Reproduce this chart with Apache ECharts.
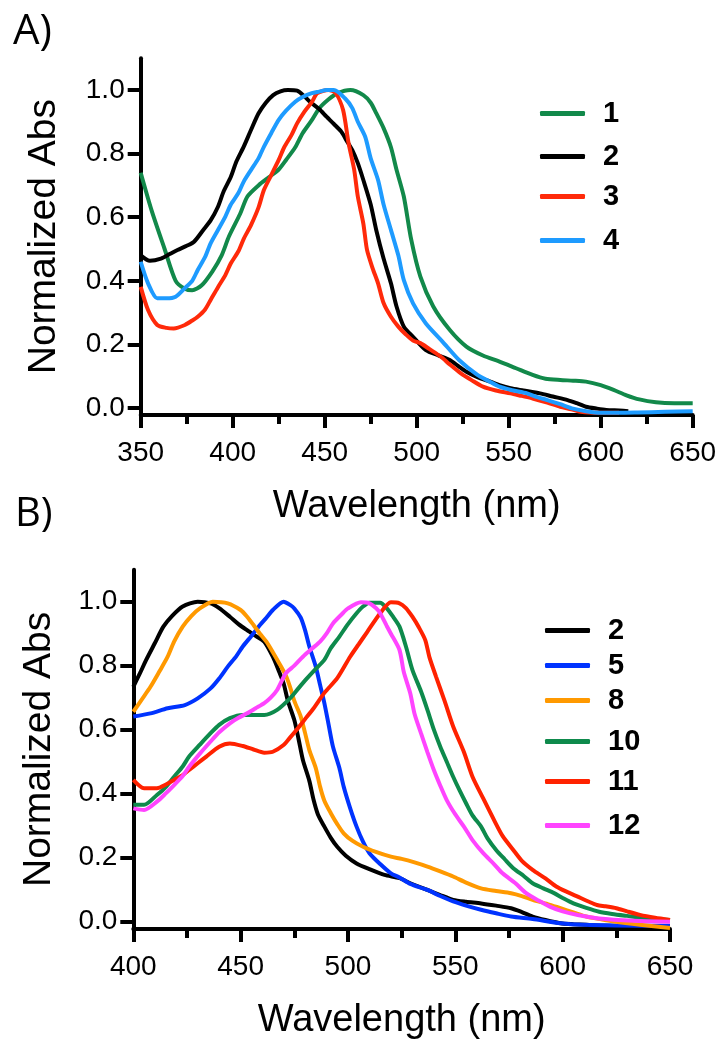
<!DOCTYPE html>
<html><head><meta charset="utf-8">
<script src="https://cdn.jsdelivr.net/npm/echarts@6/dist/echarts.min.js"></script>
<style>html,body{margin:0;padding:0;background:#fff}#c{width:727px;height:1050px}</style>
</head><body><div id="c"></div>
<script>
// ---------- data ----------
const yTicks = [0, 0.2, 0.4, 0.6, 0.8, 1.0];
const namesA = ['1', '2', '3', '4'];
const namesB = ['2', '5', '8', '10', '11', '12'];

const a1 = [[350,0.74],[356,0.62],[363,0.50],[369,0.40],[374,0.375],[378,0.37],[383,0.385],[389,0.43],[394,0.48],[398,0.54],[404,0.61],[408,0.665],[414,0.70],[420,0.727],[425,0.75],[429,0.78],[434,0.82],[438,0.864],[443,0.905],[447,0.942],[452,0.97],[457,0.99],[464,1.0],[471,0.984],[475,0.96],[478,0.927],[482,0.88],[486,0.82],[489,0.75],[493,0.665],[497,0.53],[502,0.413],[509,0.319],[518,0.245],[527,0.193],[536,0.165],[545,0.146],[554,0.125],[563,0.104],[570,0.092],[578,0.088],[585,0.086],[592,0.083],[600,0.072],[607,0.057],[614,0.04],[621,0.027],[630,0.018],[640,0.015],[650,0.015]];
const a2 = [[350,0.48],[355,0.463],[361,0.47],[366,0.485],[370,0.497],[375,0.51],[379,0.523],[384,0.56],[388,0.59],[392,0.633],[395,0.68],[399,0.727],[402,0.775],[406,0.822],[410,0.875],[414,0.926],[418,0.96],[422,0.984],[426,0.996],[430,1.0],[435,0.998],[439,0.98],[442,0.963],[447,0.94],[451,0.916],[455,0.893],[459,0.869],[462,0.84],[465,0.811],[468,0.77],[471,0.717],[475,0.64],[478,0.56],[482,0.47],[486,0.392],[489,0.32],[493,0.256],[498,0.224],[505,0.182],[512,0.165],[518,0.151],[523,0.13],[527,0.114],[533,0.097],[540,0.083],[545,0.072],[551,0.062],[558,0.055],[567,0.046],[574,0.036],[582,0.025],[587,0.015],[592,0.004],[598,-0.002],[603,-0.006],[610,-0.008],[615,-0.01]];
const a3 = [[350,0.381],[354,0.308],[359,0.261],[364,0.252],[368,0.25],[374,0.261],[378,0.275],[381,0.287],[385,0.31],[388,0.34],[392,0.38],[396,0.418],[399,0.455],[403,0.492],[406,0.532],[410,0.576],[414,0.63],[417,0.686],[421,0.733],[425,0.78],[428,0.82],[432,0.859],[435,0.895],[439,0.932],[443,0.962],[446,0.99],[452,1.0],[456,0.99],[460,0.937],[463,0.832],[466,0.75],[468,0.665],[471,0.58],[473,0.497],[476,0.44],[479,0.392],[482,0.33],[486,0.287],[490,0.256],[494,0.232],[498,0.212],[502,0.204],[507,0.185],[513,0.162],[518,0.137],[524,0.109],[530,0.087],[536,0.067],[543,0.055],[551,0.046],[557,0.038],[563,0.03],[571,0.017],[578,0.004],[584,-0.004],[589,-0.012],[600,-0.015],[610,-0.015]];
const a4 = [[350,0.46],[354,0.392],[359,0.345],[364,0.345],[369,0.35],[374,0.377],[378,0.40],[381,0.434],[385,0.475],[388,0.518],[392,0.56],[396,0.602],[399,0.64],[403,0.675],[406,0.712],[410,0.749],[414,0.785],[417,0.822],[421,0.865],[425,0.906],[429,0.935],[434,0.963],[438,0.978],[443,0.99],[447,0.995],[451,1.0],[455,1.0],[461,0.974],[465,0.943],[468,0.90],[472,0.853],[475,0.785],[479,0.717],[482,0.64],[486,0.56],[490,0.48],[493,0.402],[498,0.329],[505,0.266],[514,0.209],[523,0.151],[533,0.104],[539,0.085],[545,0.067],[552,0.056],[560,0.046],[565,0.035],[571,0.025],[578,0.012],[585,-0.002],[592,-0.01],[600,-0.015],[610,-0.015],[620,-0.014],[635,-0.012],[650,-0.01]];

const b2 = [[400,0.734],[403,0.775],[406,0.818],[410,0.87],[414,0.922],[418,0.955],[423,0.985],[430,1.0],[436,0.995],[440,0.98],[445,0.953],[449,0.93],[453,0.911],[457,0.893],[461,0.875],[465,0.828],[468,0.78],[470,0.745],[472,0.69],[475,0.63],[477,0.57],[479,0.505],[482,0.44],[484,0.38],[486,0.335],[489,0.297],[492,0.262],[495,0.234],[499,0.206],[504,0.182],[510,0.164],[517,0.146],[524,0.136],[529,0.12],[537,0.099],[543,0.083],[549,0.068],[555,0.062],[562,0.057],[569,0.05],[576,0.042],[581,0.03],[586,0.016],[592,0.005],[599,-0.005],[605,-0.008],[611,-0.01],[620,-0.013],[635,-0.015],[650,-0.015]];
const b5 = [[400,0.641],[408,0.651],[416,0.667],[424,0.677],[430,0.698],[436,0.729],[440,0.76],[444,0.797],[448,0.83],[451,0.86],[455,0.893],[459,0.927],[462,0.95],[465,0.974],[470,1.0],[473,0.99],[475,0.979],[478,0.95],[480,0.911],[482,0.86],[485,0.797],[487,0.74],[489,0.683],[491,0.615],[493,0.547],[496,0.48],[498,0.422],[501,0.355],[504,0.297],[507,0.25],[510,0.214],[515,0.18],[520,0.151],[524,0.138],[529,0.118],[537,0.099],[543,0.08],[549,0.063],[555,0.05],[562,0.037],[569,0.026],[576,0.016],[586,0.008],[599,-0.005],[610,-0.01],[625,-0.012],[650,-0.013]];
const b8 = [[400,0.656],[404,0.695],[408,0.734],[412,0.78],[416,0.828],[419,0.875],[423,0.922],[427,0.955],[431,0.979],[437,1.0],[444,0.995],[450,0.974],[453,0.953],[456,0.927],[459,0.9],[462,0.875],[465,0.842],[468,0.807],[471,0.77],[473,0.734],[475,0.69],[478,0.641],[480,0.59],[482,0.536],[485,0.48],[487,0.422],[489,0.378],[492,0.339],[495,0.305],[498,0.276],[502,0.253],[507,0.234],[513,0.218],[520,0.203],[525,0.196],[531,0.185],[537,0.172],[543,0.157],[549,0.141],[555,0.122],[562,0.104],[569,0.096],[576,0.089],[581,0.08],[586,0.068],[593,0.055],[599,0.042],[605,0.029],[611,0.016],[618,0.007],[624,0.0],[636,-0.01],[650,-0.02]];
const b10 = [[400,0.365],[405,0.365],[411,0.396],[415,0.42],[419,0.453],[423,0.485],[426,0.516],[431,0.553],[436,0.589],[440,0.615],[445,0.636],[451,0.646],[456,0.646],[461,0.646],[467,0.662],[473,0.698],[477,0.73],[481,0.761],[485,0.79],[489,0.818],[492,0.855],[496,0.891],[500,0.93],[504,0.964],[507,0.985],[510,0.997],[515,0.997],[518,0.98],[521,0.953],[524,0.922],[527,0.86],[530,0.787],[534,0.72],[537,0.662],[540,0.6],[543,0.547],[546,0.5],[549,0.453],[552,0.41],[555,0.37],[558,0.332],[562,0.297],[565,0.26],[569,0.224],[573,0.195],[577,0.167],[582,0.142],[586,0.12],[591,0.104],[596,0.089],[600,0.074],[605,0.057],[611,0.043],[617,0.031],[623,0.024],[630,0.018],[640,0.01],[650,0.005]];
const b11 = [[400,0.443],[405,0.417],[411,0.417],[415,0.428],[419,0.443],[423,0.458],[426,0.474],[430,0.495],[434,0.516],[440,0.547],[445,0.557],[451,0.549],[456,0.538],[461,0.528],[465,0.531],[470,0.552],[473,0.575],[476,0.599],[480,0.633],[484,0.667],[489,0.715],[495,0.761],[501,0.828],[505,0.867],[509,0.906],[515,0.964],[520,0.998],[524,0.995],[527,0.98],[530,0.953],[533,0.92],[536,0.88],[538,0.825],[541,0.766],[545,0.69],[549,0.61],[554,0.53],[558,0.453],[563,0.385],[568,0.318],[572,0.268],[577,0.224],[581,0.19],[586,0.162],[592,0.135],[597,0.11],[602,0.093],[607,0.078],[612,0.063],[616,0.052],[620,0.048],[625,0.042],[630,0.032],[636,0.021],[643,0.012],[650,0.005]];
const b12 = [[400,0.354],[405,0.349],[411,0.375],[415,0.4],[419,0.427],[423,0.455],[426,0.484],[431,0.525],[436,0.563],[440,0.592],[445,0.62],[449,0.637],[453,0.651],[457,0.667],[461,0.683],[464,0.7],[467,0.724],[471,0.776],[475,0.8],[479,0.828],[483,0.852],[487,0.875],[490,0.9],[493,0.932],[497,0.96],[500,0.979],[506,0.998],[510,0.995],[513,0.98],[515,0.964],[518,0.925],[520,0.9],[524,0.849],[526,0.78],[529,0.714],[531,0.65],[534,0.589],[537,0.53],[540,0.474],[543,0.425],[546,0.38],[550,0.335],[554,0.297],[558,0.255],[563,0.214],[568,0.18],[572,0.151],[578,0.12],[583,0.089],[589,0.065],[594,0.047],[600,0.032],[607,0.021],[617,0.01],[633,0.003],[650,0.0]];

const dataA = [a1, a2, a3, a4];
const dataB = [b2, b5, b8, b10, b11, b12];
const colorsA = ['#12894a', '#000000', '#ff2a0a', '#1e9bff'];
const colorsB = ['#000000', '#0033ff', '#ff9900', '#0e8a4c', '#ff2200', '#ff44ff'];

// ---------- layout ----------
const FONT = 'Liberation Sans, Arial, sans-serif';
const legATop = [115, 158, 198, 242];
const legBTop = [632, 667, 702, 743, 783, 827];

function xAx(gi, min, max) {
  return {
    type: 'value', gridIndex: gi, min: min, max: max, interval: 50,
    axisLine: { show: true, onZero: false, lineStyle: { color: '#000', width: 4 } },
    axisTick: { show: true, length: 13, lineStyle: { color: '#000', width: 4 } },
    minorTick: { show: true, splitNumber: 2, length: 9, lineStyle: { color: '#000', width: 4 } },
    splitLine: { show: false }, minorSplitLine: { show: false },
    axisLabel: { color: '#000', fontSize: 28, fontFamily: FONT, margin: 24 },
    name: 'Wavelength (nm)', nameLocation: 'middle', nameGap: 73,
    nameTextStyle: { color: '#000', fontSize: 38, fontFamily: FONT }
  };
}
function yAx(gi, min, nameGap) {
  return {
    type: 'value', gridIndex: gi, min: min, max: 1.1,
    axisLine: { show: true, onZero: false, lineStyle: { color: '#000', width: 4 } },
    axisTick: { show: true, length: 13, customValues: yTicks, lineStyle: { color: '#000', width: 4 } },
    splitLine: { show: false },
    axisLabel: { color: '#000', fontSize: 28, fontFamily: FONT, margin: 16, customValues: yTicks,
      formatter: v => Number(v).toFixed(1) },
    name: 'Normalized Abs', nameLocation: 'middle', nameGap: nameGap,
    nameTextStyle: { color: '#000', fontSize: 39, fontFamily: FONT }
  };
}

const series = [];
dataA.forEach((d, i) => series.push({
  name: 'A' + namesA[i], type: 'line', xAxisIndex: 0, yAxisIndex: 0, data: d,
  showSymbol: false, smooth: 0.25, color: colorsA[i],
  lineStyle: { width: 4, color: colorsA[i] }
}));
dataB.forEach((d, i) => series.push({
  name: 'B' + namesB[i], type: 'line', xAxisIndex: 1, yAxisIndex: 1, data: d,
  showSymbol: false, smooth: 0.25, color: colorsB[i],
  lineStyle: { width: 4, color: colorsB[i] }
}));

function leg(name, left, centerY) {
  return {
    data: [name], left: left, top: centerY - 16, padding: 0, orient: 'vertical',
    icon: 'roundRect', itemWidth: 45, itemHeight: 5, selectedMode: false,
    formatter: n => n.slice(1),
    textStyle: { color: '#000', fontSize: 29, fontWeight: 'bold', fontFamily: FONT, padding: [0, 0, 0, 13] }
  };
}
const legends = [];
namesA.forEach((n, i) => legends.push(leg('A' + n, 540, legATop[i])));
namesB.forEach((n, i) => legends.push(leg('B' + n, 545, legBTop[i])));

const chart = echarts.init(document.getElementById('c'), null, { renderer: 'canvas' });
chart.setOption({
  backgroundColor: '#fff',
  animation: false,
  title: [
    { text: 'A)', left: 8, top: 6, textStyle: { color: '#000', fontSize: 42, fontWeight: 'normal', fontFamily: 'Open Sans, sans-serif' } },
    { text: 'B)', left: 10, top: 490, textStyle: { color: '#000', fontSize: 40, fontWeight: 'normal', fontFamily: 'Open Sans, sans-serif' } }
  ],
  grid: [
    { left: 140.7, top: 58.2, width: 552, height: 356.8, outerBoundsMode: 'none', containLabel: false },
    { left: 133.3, top: 569.7, width: 536.7, height: 359.3, outerBoundsMode: 'none', containLabel: false }
  ],
  xAxis: [xAx(0, 350, 650), xAx(1, 400, 650)],
  yAxis: [yAx(0, -0.022, 77), yAx(1, -0.023, 75)],
  legend: legends,
  series: series
});
</script></body></html>
